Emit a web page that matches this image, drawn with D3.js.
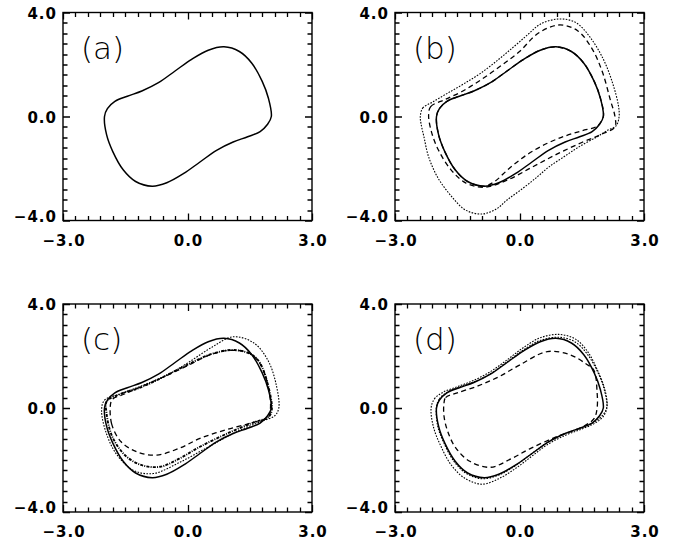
<!DOCTYPE html>
<html>
<head>
<meta charset="utf-8">
<script src="https://cdn.jsdelivr.net/npm/d3@7"></script>
<style>
  body { margin: 0; background: #fff; }
  text { font-family: "DejaVu Sans", sans-serif; fill: #000; }
</style>
</head>
<body>
<div id="chart"></div>
<script>
// axis ranges and labels
var xDomain = [-3, 3], yDomain = [-4, 4];
var xLabels = [-3, 0, 3], yLabels = [-4, 0, 4];
var panelNames = ["(a)", "(b)", "(c)", "(d)"];

// limit cycle (solid)
var cycle = [[-2.00, 0.00], [-1.93, 0.30], [-1.75, 0.58], [-1.45, 0.78], [-1.10, 0.98], [-0.70, 1.30],
  [-0.30, 1.75], [0.10, 2.20], [0.50, 2.55], [0.88, 2.68], [1.25, 2.50], [1.55, 2.05], [1.80, 1.35],
  [1.95, 0.70], [2.02, 0.00], [1.93, -0.30], [1.75, -0.58], [1.45, -0.78], [1.10, -0.98], [0.70, -1.30],
  [0.30, -1.75], [-0.10, -2.20], [-0.50, -2.55], [-0.85, -2.68], [-1.25, -2.50], [-1.55, -2.05],
  [-1.80, -1.35], [-1.95, -0.70]];

// panel (b)
var bOuter = [[-2.39, 0.00], [-2.33, 0.33], [-2.10, 0.55], [-1.74, 0.89], [-1.35, 1.25], [-0.94, 1.66],
  [-0.50, 2.20], [-0.14, 2.68], [0.20, 3.15], [0.50, 3.55], [0.95, 3.75], [1.35, 3.62], [1.70, 3.05],
  [2.03, 2.17], [2.25, 1.25], [2.38, 0.45], [2.40, 0.00], [2.33, -0.35], [2.10, -0.55], [1.87, -0.78],
  [1.45, -1.15], [1.07, -1.55], [0.70, -1.95], [0.43, -2.32], [0.05, -2.80], [-0.30, -3.21],
  [-0.55, -3.55], [-0.90, -3.75], [-1.30, -3.60], [-1.65, -3.05], [-1.98, -2.32], [-2.20, -1.50],
  [-2.30, -0.80], [-2.37, -0.30]];
var bMid = [[-2.19, 0.05], [-2.14, 0.38], [-1.80, 0.65], [-1.40, 0.95], [-0.94, 1.40], [-0.45, 1.95],
  [0.00, 2.50], [0.45, 3.20], [0.95, 3.52], [1.40, 3.30], [1.75, 2.60], [2.00, 1.70], [2.19, 0.63],
  [2.30, 0.00], [2.30, -0.40], [1.95, -0.70], [1.50, -1.00], [0.90, -1.45], [0.30, -1.95],
  [-0.30, -2.45], [-0.85, -2.72], [-1.30, -2.55], [-1.65, -2.05], [-1.95, -1.30], [-2.12, -0.60]];
var bInner = [[-2.00, 0.00], [-1.93, 0.30], [-1.75, 0.58], [-1.45, 0.78], [-1.10, 0.98], [-0.70, 1.30],
  [-0.30, 1.75], [0.10, 2.20], [0.50, 2.55], [0.88, 2.68], [1.25, 2.50], [1.55, 2.05], [1.80, 1.35],
  [1.95, 0.70], [2.02, 0.00], [1.87, -0.37], [1.50, -0.55], [1.10, -0.75], [0.67, -1.03],
  [0.20, -1.45], [-0.25, -2.00], [-0.60, -2.50], [-0.85, -2.68], [-1.25, -2.50], [-1.55, -2.05],
  [-1.80, -1.35], [-1.95, -0.70]];

// panel (c)
var cDotted = [[-2.07, -0.10], [-2.00, 0.30], [-1.60, 0.55], [-1.00, 0.92], [-0.45, 1.30], [0.05, 1.78],
  [0.60, 2.35], [1.10, 2.74], [1.60, 2.50], [1.95, 1.80], [2.15, 0.80], [2.20, 0.00], [2.10, -0.30],
  [1.80, -0.50], [1.20, -0.90], [0.50, -1.50], [-0.20, -2.10], [-0.82, -2.52], [-1.30, -2.40],
  [-1.70, -1.80], [-1.95, -1.00]];
var cThick = [[-1.95, 0.25], [-1.60, 0.55], [-1.20, 0.75], [-0.90, 0.95], [-0.45, 1.30], [-0.02, 1.65],
  [0.62, 2.10], [1.13, 2.23], [1.55, 2.05], [1.75, 1.72], [1.95, 0.82], [2.03, -0.08], [1.95, -0.35],
  [1.60, -0.55], [1.00, -0.95], [0.30, -1.49], [-0.20, -1.95], [-0.66, -2.26], [-1.10, -2.20],
  [-1.47, -1.87], [-1.75, -1.30], [-1.87, -0.85], [-1.95, -0.20]];
var cDash = [[-1.85, 0.20], [-1.83, -0.60], [-1.60, -1.30], [-1.20, -1.70], [-0.74, -1.81], [-0.20, -1.55],
  [0.30, -1.17], [0.90, -0.85], [1.50, -0.59], [1.95, -0.35], [2.00, 0.00], [1.95, 0.80], [1.75, 1.70],
  [1.50, 2.10], [1.10, 2.22], [0.60, 2.08], [0.00, 1.63], [-0.50, 1.25], [-1.00, 0.90], [-1.50, 0.55],
  [-1.80, 0.35]];

// panel (d)
var dOuter = [[-2.13, 0.00], [-2.05, 0.35], [-1.85, 0.60], [-1.50, 0.82], [-1.15, 1.03], [-0.72, 1.38],
  [-0.30, 1.85], [0.10, 2.33], [0.50, 2.70], [0.95, 2.83], [1.35, 2.65], [1.65, 2.15], [1.88, 1.45],
  [2.05, 0.75], [2.11, 0.05], [2.02, -0.32], [1.80, -0.60], [1.48, -0.82], [1.12, -1.04], [0.70, -1.38],
  [0.30, -1.85], [-0.10, -2.33], [-0.50, -2.72], [-0.90, -2.93], [-1.32, -2.70], [-1.65, -2.18],
  [-1.90, -1.45], [-2.07, -0.75]];
var dMid = [[-2.00, 0.05], [-1.93, 0.35], [-1.75, 0.60], [-1.45, 0.80], [-1.10, 1.00], [-0.70, 1.32],
  [-0.30, 1.78], [0.10, 2.24], [0.50, 2.60], [0.95, 2.72], [1.33, 2.55], [1.63, 2.08], [1.88, 1.40],
  [2.04, 0.72], [2.10, 0.00], [1.96, -0.35], [1.75, -0.58], [1.45, -0.78], [1.10, -0.98], [0.70, -1.30],
  [0.30, -1.75], [-0.10, -2.22], [-0.50, -2.58], [-0.90, -2.72], [-1.28, -2.52], [-1.58, -2.05],
  [-1.82, -1.35], [-1.97, -0.70]];
var dDash = [[-1.82, 0.18], [-1.78, 0.40], [-1.50, 0.58], [-1.00, 0.85], [-0.50, 1.20], [0.00, 1.65],
  [0.67, 2.17], [1.23, 2.04], [1.60, 1.70], [1.79, 1.46], [1.87, 0.60], [1.87, 0.00], [1.80, -0.40],
  [1.55, -0.70], [0.90, -1.10], [0.27, -1.55], [-0.20, -1.95], [-0.70, -2.28], [-1.20, -2.05],
  [-1.55, -1.50], [-1.74, -0.85], [-1.82, -0.30]];

var styles = {
  solid:   { w: 1.5, dash: null },
  dotted:  { w: 1.1, dash: "1.6,1.4" },
  dashed:  { w: 1.3, dash: "5,3.5" },
  dashdot: { w: 1.9, dash: "3,1.2,1,1.2" }
};

var panels = [
  { name: panelNames[0], left: 63, top: 12.5, curves: [[cycle, "solid"]] },
  { name: panelNames[1], left: 395, top: 12.5, curves: [[bOuter, "dotted"], [bMid, "dashed"], [bInner, "dashed"], [cycle, "solid"]] },
  { name: panelNames[2], left: 63, top: 304, curves: [[cDotted, "dotted"], [cDash, "dashed"], [cThick, "dashdot"], [cycle, "solid"]] },
  { name: panelNames[3], left: 395, top: 304, curves: [[dOuter, "dotted"], [dMid, "dotted"], [dDash, "dashed"], [cycle, "solid"]] }
];

var pw = 249, ph = 208;

var svg = d3.select("#chart")
  .append("svg")
  .attr("width", 673)
  .attr("height", 543);

var x = d3.scaleLinear().domain(xDomain).range([0, pw]);
var y = d3.scaleLinear().domain(yDomain).range([ph, 0]);

var line = d3.line()
  .x(function (d) { return x(d[0]); })
  .y(function (d) { return y(d[1]); })
  .curve(d3.curveCatmullRomClosed.alpha(0.5));

var xMinor = d3.range(-3, 3.001, 0.3);
var yMinor = d3.range(-4, 4.001, 0.4);
var fmt = function (d) { return d3.format(".1f")(d).replace("-", "\u2212"); };

panels.forEach(function (p) {
  var g = svg.append("g")
    .attr("transform", "translate(" + p.left + "," + p.top + ")");

  // curves
  p.curves.forEach(function (c) {
    var s = styles[c[1]];
    g.append("path")
      .attr("d", line(c[0]))
      .attr("fill", "none")
      .attr("stroke", "#000")
      .attr("stroke-width", s.w)
      .attr("stroke-dasharray", s.dash)
      .attr("stroke-linejoin", "round");
  });

  // ticks on all four sides, pointing inwards (drawn as one path)
  var isMajor = function (v, majors) { return majors.indexOf(Math.round(v * 10) / 10) >= 0; };
  var tk = "";
  xMinor.forEach(function (v) {
    var px = Math.round(x(v)) + 0.5, len = isMajor(v, xLabels) ? 7 : 4.5;
    tk += "M" + px + ",0v" + len + "M" + px + "," + ph + "v" + (-len);
  });
  yMinor.forEach(function (v) {
    var py = Math.round(y(v)) + 0.5, len = isMajor(v, yLabels) ? 7 : 4.5;
    tk += "M0," + py + "h" + len + "M" + pw + "," + py + "h" + (-len);
  });
  g.append("path")
    .attr("d", tk)
    .attr("fill", "none")
    .attr("stroke", "#000")
    .attr("stroke-width", 1.3);

  g.append("rect")
    .attr("width", pw).attr("height", ph)
    .attr("fill", "none").attr("stroke", "#000").attr("stroke-width", 1.4);

  // tick labels
  g.selectAll(".xl").data(xLabels).enter().append("text")
    .attr("x", function (d) { return x(d) + 1; })
    .attr("y", ph + 25)
    .attr("text-anchor", "middle")
    .attr("font-size", 15)
    .attr("font-weight", "bold")
    .attr("letter-spacing", 1)
    .text(fmt);
  g.selectAll(".yl").data(yLabels).enter().append("text")
    .attr("x", -6)
    .attr("y", function (d) { return d === yDomain[0] ? y(d) + 1 : y(d) + 6; })
    .attr("text-anchor", "end")
    .attr("font-size", 15)
    .attr("font-weight", "bold")
    .attr("letter-spacing", 1)
    .text(fmt);

  g.append("text")
    .attr("x", 18).attr("y", 46)
    .attr("font-size", 31)
    .attr("font-weight", 300)
    .text(p.name);
});
</script>
</body>
</html>
